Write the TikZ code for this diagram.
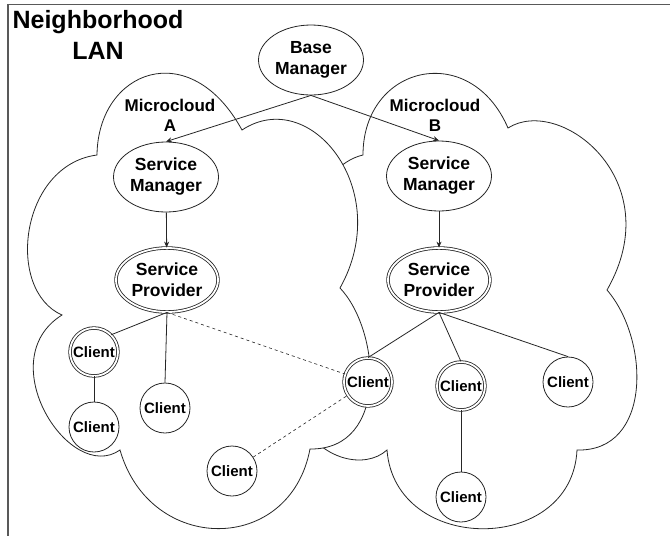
\documentclass[tikz,border=0pt]{standalone}
\usepackage{fontspec}
\setmainfont{Liberation Sans}
\usetikzlibrary{shapes.geometric,arrows.meta}
\begin{document}
\begin{tikzpicture}[x=1pt, y=-1pt,
  every node/.style={font=\bfseries, align=center, text=black},
  line/.style={draw=black!85, line width=0.8pt},
  mgr/.style={line, ellipse, fill=white, inner sep=0pt, minimum width=105pt, minimum height=70pt, font=\bfseries\fontsize{17.5}{21}\selectfont},
  prov/.style={mgr, double, double distance=1.8pt, minimum width=102pt, minimum height=64pt},
  client/.style={line, circle, fill=white, inner sep=0pt, minimum size=50pt, font=\bfseries\fontsize{15}{18}\selectfont},
  relay/.style={client, double, double distance=1.8pt, minimum size=48pt},
  link/.style={line, -{Stealth[length=6pt,width=5pt]}}]
\useasboundingbox (0,0) rectangle (670,536);
\draw[gray!70!black, line width=1.3pt] (8,536) -- (8,4.5) -- (670,4.5);
% microcloud B (partly hidden behind A)
\draw[line] (363,155) .. controls (363,65) and (470,40) .. (508,128)
  .. controls (560,95) and (670,180) .. (607,290)
  .. controls (650,340) and (652,452) .. (577,450)
  .. controls (572,555) and (395,555) .. (387,450)
  .. controls (365,470) and (320,460) .. (300,420)
  .. controls (280,300) and (300,170) .. (363,155) -- cycle;
% microcloud A
\draw[line, fill=white] (97,155) .. controls (98,70) and (190,35) .. (242,130)
  .. controls (310,85) and (395,190) .. (340,288)
  .. controls (380,330) and (390,450) .. (310,449)
  .. controls (290,555) and (150,555) .. (120,450)
  .. controls (70,485) and (-10,360) .. (62,315)
  .. controls (5,290) and (20,165) .. (97,155) -- cycle;
\node (title) at (98,35) [font=\bfseries\fontsize{25}{31}\selectfont] {Neighborhood\\LAN};
\node (micA) at (170,115) [font=\bfseries\fontsize{17}{20}\selectfont] {Microcloud\\A};
\node (micB) at (435,115) [font=\bfseries\fontsize{17}{20}\selectfont] {Microcloud\\B};
\node[mgr] (base) at (311,60) {Base\\Manager};
\node[mgr] (smA) at (166,177) {Service\\Manager};
\node[mgr] (smB) at (439,176) {Service\\Manager};
\node[prov] (spA) at (167,280) {Service\\Provider};
\node[prov] (spB) at (439,280) {Service\\Provider};
\node[relay] (cA1) at (94,352) {Client};
\node[client] (cA2) at (94,427) {Client};
\node[client] (cA3) at (165,408) {Client};
\node[client] (cA4) at (232,471) {Client};
\node[relay] (cM) at (368,382) {Client};
\node[relay] (cB1) at (461,386) {Client};
\node[client] (cB2) at (461,497) {Client};
\node[client] (cB3) at (568,382) {Client};
\draw[link] (base.south) -- (smA.north);
\draw[link] (base.south) -- (smB.north);
\draw[link] (smA) -- (spA);
\draw[link] (smB) -- (spB);
\draw[line] (spA.south) -- (cA1.north east);
\draw[line] (spA.south) -- (cA3.north);
\draw[line] (cA1) -- (cA2);
\draw[line, dashed, line width=0.6pt] (spA.south) -- (cM);
\draw[line, dashed, line width=0.6pt] (cA4) -- (cM);
\draw[line] (spB.south) -- (cM.north);
\draw[line] (spB.south) -- (cB1.north);
\draw[line] (spB.south) -- (cB3.north);
\draw[line] (cB1) -- (cB2);
\end{tikzpicture}
\end{document}
